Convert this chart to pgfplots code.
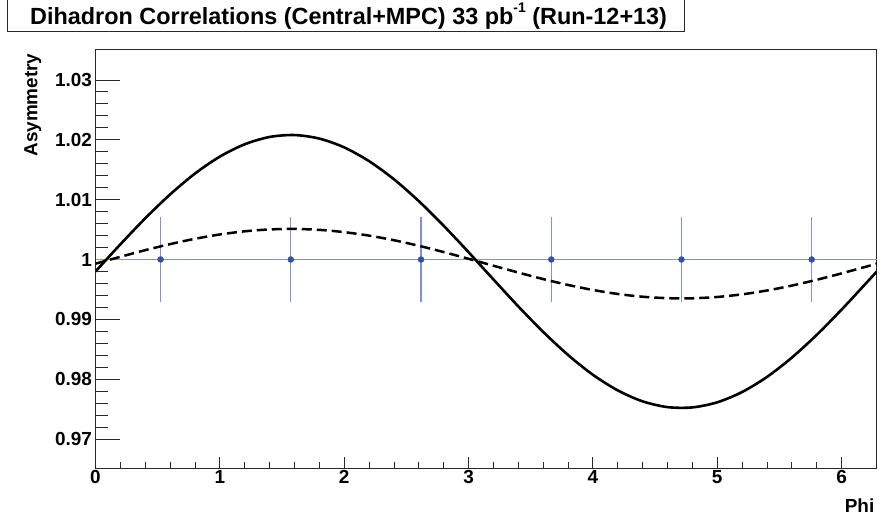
\documentclass[border=0pt]{standalone}
\usepackage{fontspec}
\setmainfont{Liberation Sans}
\usepackage{pgfplots}
\pgfplotsset{compat=1.18}
\definecolor{errcol}{RGB}{125,148,210}
\definecolor{markcol}{RGB}{50,80,175}
\definecolor{framecol}{RGB}{40,40,40}
\pgfplotstableread{
x y
0.0 0.99800
0.2 1.00253
0.4 1.00688
0.6 1.01087
0.8 1.01436
1.0 1.01719
1.2 1.01925
1.4 1.02047
1.6 1.02079
1.8 1.02020
2.0 1.01873
2.2 1.01643
2.4 1.01340
2.6 1.00975
2.8 1.00564
3.0 1.00122
3.2 0.99667
3.4 0.99217
3.6 0.98791
3.8 0.98405
4.0 0.98074
4.2 0.97813
4.4 0.97630
4.6 0.97534
4.8 0.97529
5.0 0.97614
5.2 0.97786
5.4 0.98038
5.6 0.98361
5.8 0.98741
6.0 0.99163
6.2 0.99611
6.283 0.99800
}\solidtab
\pgfplotstableread{
x y
0.0 0.99930
0.2 1.00045
0.4 1.00156
0.6 1.00257
0.8 1.00346
1.0 1.00418
1.2 1.00471
1.4 1.00502
1.6 1.00510
1.8 1.00495
2.0 1.00457
2.2 1.00399
2.4 1.00322
2.6 1.00229
2.8 1.00124
3.0 1.00012
3.2 0.99896
3.4 0.99782
3.6 0.99673
3.8 0.99575
4.0 0.99491
4.2 0.99424
4.4 0.99378
4.6 0.99354
4.8 0.99352
5.0 0.99374
5.2 0.99418
5.4 0.99482
5.6 0.99564
5.8 0.99661
6.0 0.99768
6.2 0.99882
6.283 0.99930
}\dashtab
\pgfplotstableread{
x y ey
0.5236 1.0 0.0071
1.5708 1.0 0.0071
2.6180 1.0 0.0071
3.6652 1.0 0.0071
4.7124 1.0 0.0071
5.7596 1.0 0.0071
}\pointtab
\begin{document}
\begin{tikzpicture}
\path[use as bounding box] (0,0) rectangle (881bp,519bp);
% title box
\draw[line width=1bp, framecol] (7bp,525bp) -- (7bp,487bp) -- (684bp,487bp) -- (684bp,525bp);
\node[anchor=base west, inner sep=0pt, font=\bfseries\fontsize{23.5}{23.5}\selectfont] at (30bp,494bp)
  {Dihadron Correlations (Central+MPC) 33 pb\raisebox{0.55em}{\fontsize{14}{14}\selectfont -1} (Run-12+13)};
% y-tick axis (long ticks)
\begin{axis}[at={(95.5bp,50bp)}, anchor=south west, scale only axis,
  width=781.3bp, height=419bp,
  xmin=0, xmax=6.2832, ymin=0.965, ymax=1.035,
  axis line style={draw=none},
  xtick=\empty,
  ytick={0.97,0.98,0.99,1,1.01,1.02,1.03},
  yticklabels={0.97,0.98,0.99,1,1.01,1.02,1.03},
  minor y tick num=4,
  tick pos=left, tick align=inside,
  major tick length=24bp, minor tick length=12bp,
  tick style={line width=0.8bp, framecol},
  yticklabel style={font=\bfseries\fontsize{19}{19}\selectfont},
  /pgf/number format/assume math mode=true,
  ylabel={Asymmetry},
  ylabel style={at={(axis description cs:-0.0745,1)}, anchor=base east, rotate=0,
    font=\bfseries\fontsize{19}{19}\selectfont},
]
\addplot[draw=none] coordinates {(0,1)};
\end{axis}
% main axis
\begin{axis}[at={(95.5bp,50bp)}, anchor=south west, scale only axis,
  width=781.3bp, height=419bp,
  xmin=0, xmax=6.2832, ymin=0.965, ymax=1.035,
  axis line style={line width=1bp, framecol},
  xtick={0,1,2,3,4,5,6},
  minor x tick num=4,
  ytick=\empty,
  tick pos=left, tick align=inside,
  major tick length=12bp, minor tick length=6.5bp,
  tick style={line width=0.8bp, framecol},
  xticklabel style={font=\bfseries\fontsize{19}{19}\selectfont, yshift=2bp},
  /pgf/number format/assume math mode=true,
  xlabel={Phi},
  xlabel style={at={(axis description cs:1,0)}, anchor=base east, yshift=-43bp, xshift=1bp,
    font=\bfseries\fontsize{19}{19}\selectfont},
]
\addplot[errcol, line width=1.3bp] coordinates {(0,1) (6.2832,1)};
\addplot[only marks, mark=*, mark size=3bp, mark options={draw=markcol, fill=markcol},
  error bars/.cd, y dir=both, y explicit, error mark=none,
  error bar style={errcol, line width=1.3bp}]
  table[x=x, y=y, y error=ey] {\pointtab};
\addplot[black, line width=2.5bp, dash pattern=on 10bp off 5bp, smooth] table[x=x,y=y] {\dashtab};
\addplot[black, line width=2.6bp, smooth] table[x=x,y=y] {\solidtab};
\end{axis}
\end{tikzpicture}
\end{document}
